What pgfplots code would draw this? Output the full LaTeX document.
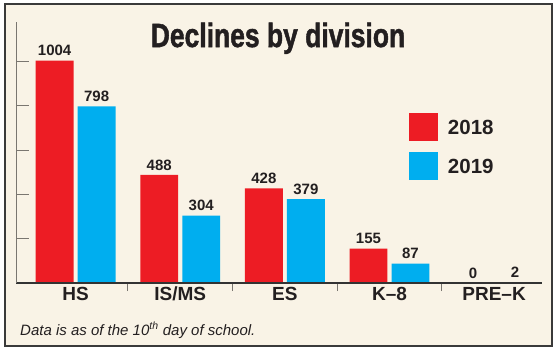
\documentclass[border=0pt]{standalone}
\usepackage{pgfplots}
\pgfplotsset{compat=1.18}
\usetikzlibrary{backgrounds}
\usepackage{fontspec}
\setmainfont{Liberation Sans}
\newfontfamily\titlefont[FakeBold=1.6]{Liberation Sans Bold}
\definecolor{bg}{HTML}{F9F3E6}
\definecolor{myred}{HTML}{ED1C24}
\definecolor{mycyan}{HTML}{00AEEF}
\definecolor{txt}{HTML}{231F20}
\definecolor{framec}{HTML}{3A3A3A}
\definecolor{axgray}{HTML}{7A7670}
\begin{document}
\begin{tikzpicture}
\begin{axis}[
  scale only axis,
  width=526pt, height=261pt,
  xmin=-0.570, xmax=4.458, ymin=0, ymax=1179,
  axis x line*=bottom, axis y line*=left,
  axis on top, clip=false,
  /pgf/number format/assume math mode=true,
  /pgf/number format/1000 sep={},
  y axis line style={draw=axgray, line width=0.9pt},
  x axis line style={draw=black!80, line width=1.2pt},
  tick align=inside,
  major tick length=13pt, minor tick length=8pt,
  ytick={200,400,600,800,1000}, yticklabels={},
  ytick style={draw=axgray, line width=0.9pt},
  xtick={0,1,2,3,4}, xticklabels={HS,IS/MS,ES,K--8,PRE--K},
  major x tick style={draw=none},
  minor xtick={0.5,1.5,2.5,3.5},
  minor x tick style={draw=axgray, line width=0.9pt},
  xticklabel style={font=\bfseries\fontsize{19}{21}\selectfont, text=txt, anchor=base, yshift=-4pt, inner sep=0pt},
  ybar=4.2pt, bar width=37.8pt,
  nodes near coords,
  every node near coord/.append style={font=\bfseries\fontsize{15}{17}\selectfont, text=txt, inner sep=0pt, yshift=4.5pt},
  legend style={at={(0.7471,0.6513)}, anchor=north west, draw=none, fill=none, inner sep=0pt, outer sep=0pt, row sep=11pt, font=\bfseries\fontsize{20.5}{22}\selectfont, text=txt, /tikz/every odd column/.append style={column sep=8pt}},
  legend cell align=left,
  legend image code/.code={\fill[#1] (0pt,-12.8pt) rectangle (29pt,15.2pt);},
]
\addplot[fill=myred, draw=none] coordinates {(0,1004) (1,488) (2,428) (3,155) (4,0)};
\addplot[fill=mycyan, draw=none] coordinates {(0,798) (1,304) (2,379) (3,87) (4,2)};
\legend{2018,2019}
\coordinate (O) at (rel axis cs:0,0);
\end{axis}
\begin{scope}[shift={(O)}, x=1pt, y=1pt]
\begin{scope}[on background layer]
\fill[white] (-16,-71) rectangle (542,283);
\filldraw[fill=bg, draw=framec, line width=1.6pt] (-11,-63) rectangle (536,279);
\end{scope}
\node[anchor=base, font=\titlefont\fontsize{33.5}{36}\selectfont, text=txt, inner sep=0pt] at (262,236) {\scalebox{0.79}[1]{Declines by division}};
\node[anchor=base west, font=\itshape\fontsize{15}{17}\selectfont, text=txt, inner sep=0pt] at (4,-52) {Data is as of the 10\textsuperscript{th} day of school.};
\pgfresetboundingbox
\path[use as bounding box] (-16,-71) rectangle (542,283);
\end{scope}
\end{tikzpicture}
\end{document}
